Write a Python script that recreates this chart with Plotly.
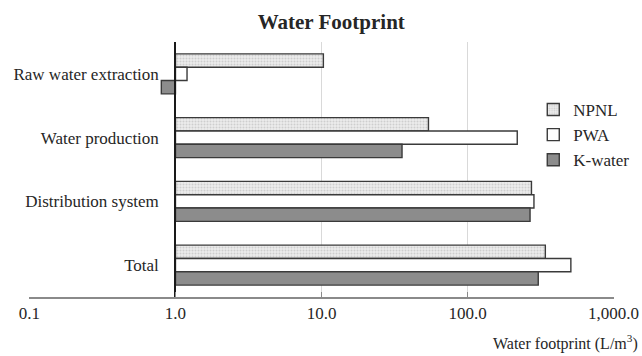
import plotly.graph_objects as go

categories = ["Raw water extraction", "Water production", "Distribution system", "Total"]
npnl = [10.3, 54, 274, 341]
pwa = [1.2, 219, 285, 510]
kwater = [0.8, 35.6, 268, 305]
tick_vals = [0.1, 1, 10, 100, 1000]
tick_text = ["0.1", "1.0", "10.0", "100.0", "1,000.0"]
BASE = 1.0

FONT = "Liberation Serif, Times New Roman, serif"
OUTLINE = "#3a3a3a"

fig = go.Figure()

def add(name, vals, color, pattern=None):
    marker = dict(color=color, line=dict(color=OUTLINE, width=1.4))
    if pattern:
        marker["pattern"] = pattern
    fig.add_trace(go.Bar(
        name=name, y=categories, x=[v - BASE for v in vals], base=BASE,
        orientation="h", marker=marker,
    ))

add("NPNL", npnl, "#e4e4e4",
    dict(shape=".", fgcolor="#b0b0b0", bgcolor="#ececec", size=3, solidity=0.35))
add("PWA", pwa, "#ffffff")
add("K-water", kwater, "#8c8c8c")

fig.update_layout(
    width=642, height=356,
    margin=dict(l=29, r=28, t=42, b=59, autoexpand=False),
    paper_bgcolor="white", plot_bgcolor="white",
    barmode="group", bargap=0.373, bargroupgap=0,
    font=dict(family=FONT, size=17, color="#262626"),
    title=dict(text="<b>Water Footprint</b>", x=0.516, xanchor="center",
               y=1 - 22 / 356, yanchor="middle",
               font=dict(family=FONT, size=21, color="#262626")),
    showlegend=True,
    legend=dict(x=0.862, y=0.804, xanchor="left", yanchor="top",
                bgcolor="rgba(0,0,0,0)", font=dict(size=17),
                tracegroupgap=0, itemwidth=30),
    xaxis=dict(type="log", range=[-1.003, 3.003], tickvals=tick_vals, ticktext=tick_text,
               showgrid=True, gridcolor="#d9d9d9", gridwidth=1,
               showline=True, linecolor="#8a8a8a", linewidth=1.5,
               ticks="inside", ticklen=5, tickcolor="#8a8a8a",
               zeroline=False, tickfont=dict(size=17), automargin=False),
    yaxis=dict(type="category", categoryorder="array", categoryarray=categories,
               range=[3.5, -0.5], anchor="free", position=0.25,
               showline=True, linecolor="#1a1a1a", linewidth=2,
               showgrid=False, ticks="", ticklabelstandoff=12,
               tickfont=dict(size=17), automargin=False),
)

fig.add_annotation(text="Water footprint (L/m<sup>3</sup>)", xref="paper", yref="paper",
                   x=(640 - 29) / 585, y=(297 - 342) / 255, xanchor="right", yanchor="middle",
                   showarrow=False, font=dict(family=FONT, size=16, color="#262626"))

fig.write_html("out.html", config={"displayModeBar": False},
               post_script="document.body.style.margin='0';document.body.style.overflow='hidden';")
